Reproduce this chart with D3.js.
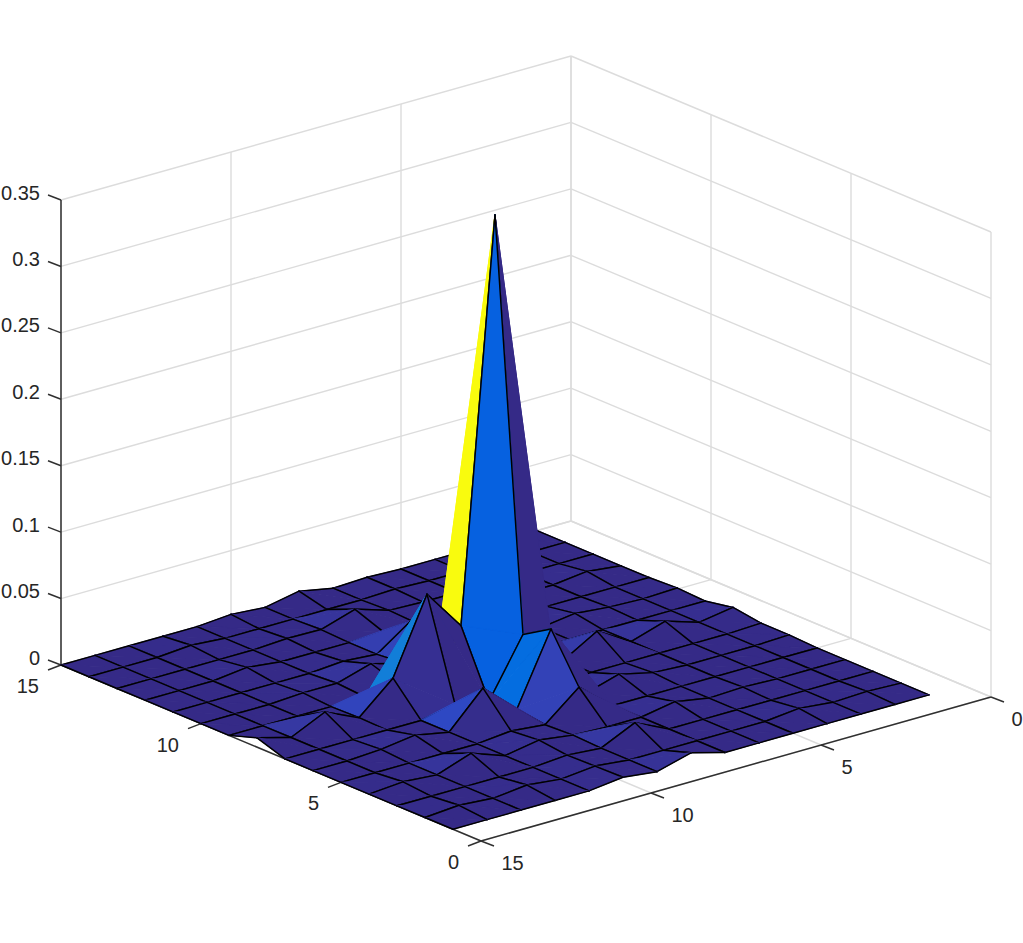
<!DOCTYPE html>
<html>
<head>
<meta charset="utf-8">
<script src="https://cdn.jsdelivr.net/npm/d3@7/dist/d3.min.js"></script>
<style>
html,body{margin:0;padding:0;background:#fff;}
svg{display:block;}
text{font-family:"Liberation Sans",Arial,sans-serif;font-size:20px;fill:#262626;}
</style>
</head>
<body>
<svg id="chart" width="1023" height="943"></svg>
<script>
// Tick values
const zTicks = [0, 0.05, 0.1, 0.15, 0.2, 0.25, 0.3, 0.35];
const zTickLabels = ["0", "0.05", "0.1", "0.15", "0.2", "0.25", "0.3", "0.35"];
const uTicks = [0, 5, 10, 15];
const vTicks = [0, 5, 10, 15];

// Surface heights: one list per u = 1..15, entries for v = 1..15
const zU01 = [0,0,0,0,0,.001,.001,.004,0,.001,0,0,0,0,0];
const zU02 = [0,.001,0,0,0,0,0,0,0,0,0,.003,0,0,0];
const zU03 = [0,0,0,0,0,0,0,.008,0,.001,0,0,0,0,0];
const zU04 = [0,.0027,0,.001,0,0,0,0,0,.0035,0,0,0,0,0];
const zU05 = [0,0,0,0,0,.0015,0,.015,0,0,0,0,0,0,0];
const zU06 = [0,0,0,.0045,0,.0075,0,0,0,0,0,0,0,.001,.001];
const zU07 = [0,0,0,0,0,0,0,0,.002,0,0,0,.001,0,0];
const zU08 = [.007,0,.012,0,.021,.056,.043,.35,.03,.022,.018,.001,.009,0,.005];
const zU09 = [0,0,0,.001,0,.003,0,.048,0,.002,0,0,.001,0,0];
const zU10 = [.003,.0026,.002,.0045,.0025,.026,.005,.079,.002,.009,.002,0,.0015,0,.002];
const zU11 = [0,0,0,0,0,0,0,.023,0,.0015,0,0,0,0,0];
const zU12 = [0,.0028,0,.009,0,.005,0,.0005,0,.0015,0,.003,0,.002,0];
const zU13 = [0,0,0,0,0,.0015,0,.012,0,0,0,0,0,0,0];
const zU14 = [0,.002,0,.002,0,0,0,0,0,0,0,0,0,0,0];
const zU15 = [0,0,0,0,0,0,0,.007,0,0,0,0,0,0,0];
const zGrid = [zU01,zU02,zU03,zU04,zU05,zU06,zU07,zU08,zU09,zU10,zU11,zU12,zU13,zU14,zU15];

// Colormap (parula)
const colorPositions = [0,1,2,3,4,5,6,7,8,9,10,11,12,13,14,15,16,20,26,32,38,44,50,56,63].map(d => d/63);
const colorValues = [
 "#352a87","#363093","#3637a0","#353dad","#3243ba","#2c4ac7","#2053d4","#0f5cdd","#0363e1","#0268e1",
 "#046de0","#0871de","#0d75dc","#1079da","#127dd8","#1481d6","#1485d4","#078dcf","#0e9dbe","#2fa9a9",
 "#5db792","#97b97a","#cbb86a","#f4c84a","#f9fb0e"];

const svg = d3.select("#chart");

// Axis scales: screen displacement contributed by each data coordinate
const uToX = d3.scaleLinear().domain([0,15]).range([991,481]);
const uToY = d3.scaleLinear().domain([0,15]).range([697,841]);
const vToX = d3.scaleLinear().domain([0,15]).range([0,-420]);
const vToY = d3.scaleLinear().domain([0,15]).range([0,-176]);
const zToY = d3.scaleLinear().domain([0,0.35]).range([0,-465]);
const color = d3.scaleLinear().domain(colorPositions.map(t => t*0.35)).range(colorValues).clamp(true);

const project = (u,v,z=0) => [uToX(u)+vToX(v), uToY(u)+vToY(v)+zToY(z)];
const line = d3.line();
const zMax = zTicks[zTicks.length-1];
const uMax = uTicks[uTicks.length-1];
const vMax = vTicks[vTicks.length-1];

// Grid lines
const grid = [];
zTicks.forEach(z => {
  grid.push([project(uMax,vMax,z), project(0,vMax,z)]);
  grid.push([project(0,vMax,z), project(0,0,z)]);
});
uTicks.forEach(u => {
  grid.push([project(u,vMax,0), project(u,vMax,zMax)]);
  grid.push([project(u,0,0), project(u,vMax,0)]);
});
vTicks.forEach(v => {
  grid.push([project(0,v,0), project(0,v,zMax)]);
  grid.push([project(0,v,0), project(uMax,v,0)]);
});
svg.append("g").selectAll("path").data(grid).join("path")
  .attr("d", d => line(d)).attr("fill","none").attr("stroke","#dcdcdc").attr("stroke-width",1.4);

// Axes and ticks
const axisColor = "#303030";
const axes = [
  [project(uMax,vMax,0), project(uMax,vMax,zMax)],
  [project(uMax,vMax,0), project(uMax,0,0)],
  [project(uMax,0,0), project(0,0,0)]
];
const tip = (p,dx,dy) => [p, [p[0]+dx, p[1]+dy]];
zTicks.forEach(z => axes.push(tip(project(uMax,vMax,z), -13, -5)));
vTicks.forEach(v => axes.push(tip(project(uMax,v,0), -13, 5)));
uTicks.forEach(u => axes.push(tip(project(u,0,0), 13, 5)));
svg.append("g").selectAll("path").data(axes).join("path")
  .attr("d", d => line(d)).attr("fill","none").attr("stroke",axisColor).attr("stroke-width",1.5);

// Surface: each grid cell is split along its A-C diagonal, drawn back to front
const cells = [];
d3.range(0,14).forEach(i => d3.range(0,14).forEach(j => cells.push({i,j})));
cells.sort((a,b) => (28*a.i-34*a.j) - (28*b.i-34*b.j));
const ops = [];
cells.forEach(({i,j}) => {
  const P = (a,b) => project(a+1,b+1,zGrid[a][b]);
  const A = P(i,j), B = P(i+1,j), C = P(i+1,j+1), D = P(i,j+1);
  const fill = color(zGrid[i][j]);
  ops.push({pts:[A,C,D], fill});
  ops.push({pts:[A,D], edge:true});
  ops.push({pts:[D,C], edge:true});
  ops.push({pts:[A,B,C], fill});
  ops.push({pts:[A,B], edge:true});
  ops.push({pts:[B,C], edge:true});
});
svg.append("g").selectAll("path").data(ops).join("path")
  .attr("d", d => line(d.pts) + (d.edge ? "" : "Z"))
  .attr("fill", d => d.edge ? "none" : d.fill)
  .attr("stroke", d => d.edge ? "#000" : d.fill)
  .attr("stroke-width", d => d.edge ? 1.45 : 1)
  .attr("stroke-linejoin","round").attr("stroke-linecap","round");

// Tick labels
const labels = svg.append("g");
labels.selectAll("text.z").data(zTicks).join("text").attr("class","z")
  .attr("text-anchor","end").attr("dominant-baseline","central")
  .attr("x", d => project(uMax,vMax,d)[0]-21)
  .attr("y", d => project(uMax,vMax,d)[1]-7.5)
  .text((d,i) => zTickLabels[i]);
labels.selectAll("text.v").data(vTicks).join("text").attr("class","v")
  .attr("text-anchor","end").attr("dominant-baseline","central")
  .attr("x", d => project(uMax,d,0)[0]-22)
  .attr("y", d => project(uMax,d,0)[1]+21)
  .text(d => d);
labels.selectAll("text.u").data(uTicks).join("text").attr("class","u")
  .attr("text-anchor","start").attr("dominant-baseline","central")
  .attr("x", d => project(d,0,0)[0]+20.5)
  .attr("y", d => project(d,0,0)[1]+22)
  .text(d => d);
</script>
</body>
</html>
